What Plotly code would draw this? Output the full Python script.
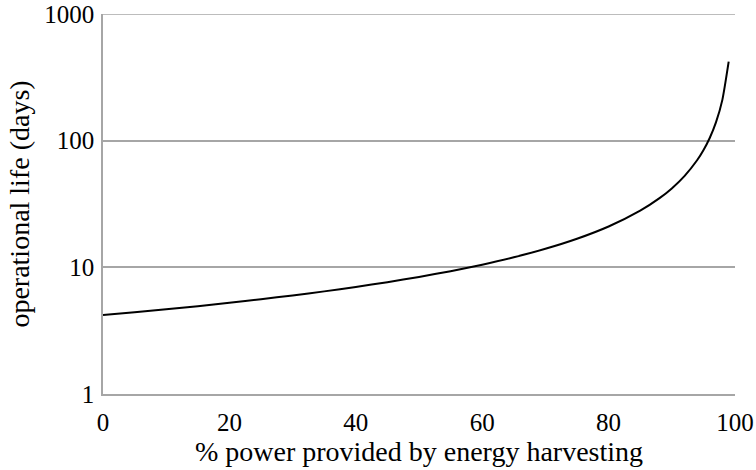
import plotly.graph_objects as go

# % power provided by energy harvesting
harvest_pct = [0, 5, 10, 15, 20, 25, 30, 35, 40, 45, 50, 55, 60, 65, 70, 75,
               80, 85, 88, 90, 92, 94, 95, 96, 97, 98, 99]
# operational life (days)
life_days = [4.2, 4.42, 4.67, 4.94, 5.25, 5.6, 6.0, 6.46, 7.0, 7.64, 8.4, 9.33,
             10.5, 12.0, 14.0, 16.8, 21.0, 28.0, 35.0, 42.0, 52.5, 70.0, 84.0,
             105.0, 140.0, 210.0, 420.0]

x_ticks = [0, 20, 40, 60, 80, 100]
y_ticks = [1, 10, 100, 1000]
y_tick_labels = ["1", "10", "100", "1000"]

FONT = "Liberation Serif, Times New Roman, serif"
GRID = "#a6a6a6"

fig = go.Figure()
fig.add_trace(go.Scatter(
    x=harvest_pct, y=life_days, mode="lines",
    line=dict(color="black", width=2, shape="spline", smoothing=0.6),
    showlegend=False, hoverinfo="x+y",
))

# top gridline sits on the plot edge, where plotly omits it; draw it explicitly
fig.add_hline(y=y_ticks[-1], line=dict(color=GRID, width=1.5), layer="below")

fig.update_layout(
    width=756, height=470,
    margin=dict(l=103, r=21, t=14, b=76),
    paper_bgcolor="white", plot_bgcolor="white",
    font=dict(family=FONT, size=25, color="black"),
    xaxis=dict(
        range=[0, 100], tickvals=x_ticks, showgrid=False,
        showline=True, linecolor=GRID, linewidth=1.5,
        ticks="", zeroline=False, ticklabelstandoff=5,
        automargin=False,
        title=dict(text="% power provided by energy harvesting", standoff=2,
                   font=dict(size=28)),
    ),
    yaxis=dict(
        type="log", range=[0, 3], tickvals=y_ticks, ticktext=y_tick_labels,
        showgrid=True, gridcolor=GRID, gridwidth=1.5,
        showline=True, linecolor=GRID, linewidth=1.5,
        ticks="", zeroline=False, ticklabelstandoff=2,
        automargin=False,
        title=dict(text="operational life (days)", standoff=6,
                   font=dict(size=28)),
    ),
)

# remove the default page margin so the figure fills the window exactly
fig.write_html("out.html",
               config={"displayModeBar": False},
               post_script="document.body.style.margin='0';document.body.style.overflow='hidden';")
